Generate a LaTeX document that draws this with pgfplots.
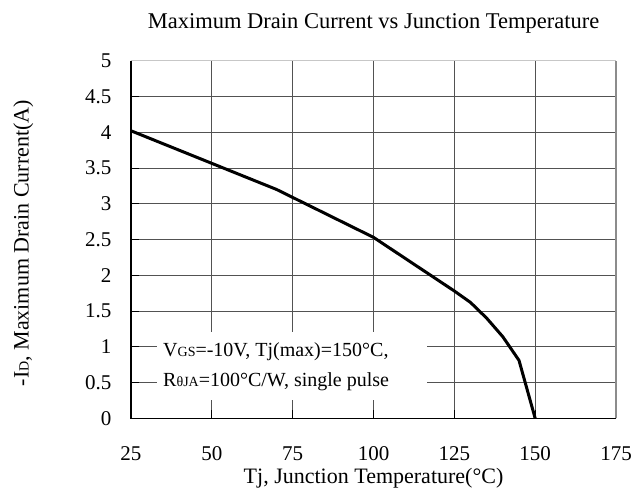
\documentclass[border=0pt]{standalone}
\usepackage{fontspec}
\setmainfont{Liberation Serif}
\usepackage{pgfplots}
\pgfplotsset{compat=1.18}
\newcommand{\sm}[1]{{\fontsize{14}{14}\selectfont #1}}
\begin{document}
\begin{tikzpicture}
\begin{axis}[
  scale only axis, width=485pt, height=357.6pt,
  xmin=25, xmax=175, ymin=0, ymax=5,
  xtick={25,50,75,100,125,150,175},
  ytick={0,0.5,1,1.5,2,2.5,3,3.5,4,4.5,5},
  grid=major, major grid style={draw=black!68, line width=0.8pt},
  tick style={black, line width=0.8pt}, major tick length=8pt, tick align=inside,
  xtick pos=bottom, ytick pos=left,
  axis line style={draw=none},
  /pgf/number format/assume math mode=true,
  ticklabel style={font=\fontsize{21}{21}\selectfont},
  yticklabel style={xshift=-16pt},
  xticklabel style={yshift=-25pt},
  xlabel={Tj, Junction Temperature(°C)},
  ylabel={-I\sm{D}, Maximum Drain Current(A)},
  xlabel style={at={(rel axis cs:0.5,-0.168)}, anchor=center},
  ylabel style={at={(rel axis cs:-0.222,0.49)}, anchor=center},
  label style={font=\fontsize{22}{22}\selectfont},
  title={Maximum Drain Current vs Junction Temperature},
  title style={font=\fontsize{22.5}{22.5}\selectfont, yshift=18pt},
  clip=false,
]
\fill[white] (axis cs:33,0.26) rectangle (axis cs:116.6,1.21);
\node[anchor=base west, inner sep=0pt, font=\fontsize{20}{20}\selectfont] at (axis cs:34.9,0.86) {V\sm{GS}=-10V, Tj(max)=150°C,};
\node[anchor=base west, inner sep=0pt, font=\fontsize{20}{20}\selectfont] at (axis cs:34.9,0.44) {R\sm{θJA}=100°C/W, single pulse};
\addplot[black, line width=3pt, line join=round] coordinates {
 (25,4.02) (70,3.20) (100,2.53) (125,1.78) (130,1.62) (135,1.40) (140,1.14) (145,0.81) (150,0)
};
\draw[black, line width=1.2pt] (rel axis cs:0,1) -- (rel axis cs:0,0) -- (rel axis cs:1,0);
\draw[black!22, line width=1.5pt] (rel axis cs:0,1) -- (rel axis cs:1,1);
\draw[black!45, line width=2pt] (rel axis cs:1,0) -- (rel axis cs:1,1);
\coordinate (SW) at (rel axis cs:0,0);
\coordinate (NE) at (rel axis cs:1,1);
\end{axis}
\pgfresetboundingbox
\path ([xshift=-131pt,yshift=-74.7pt]SW) rectangle ([xshift=18pt,yshift=60.7pt]NE);
\end{tikzpicture}
\end{document}
